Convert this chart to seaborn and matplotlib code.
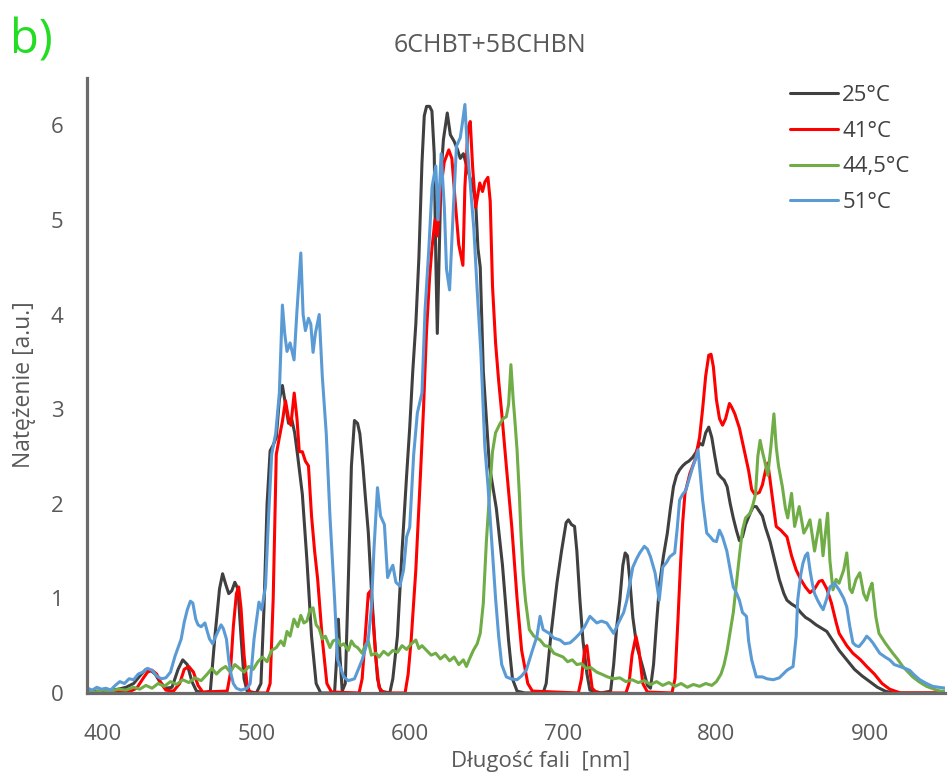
import matplotlib
matplotlib.use("Agg")
import matplotlib.pyplot as plt
import seaborn as sns
import pandas as pd

# ---------------- data ----------------
series_names = ["25°C", "41°C", "44,5°C", "51°C"]

wl_25 = [390, 395, 400, 405, 410, 415, 420, 424, 428, 431, 434, 437, 441, 445, 449, 452, 455, 458, 461, 466,
         470, 473, 476, 478, 480, 482, 484, 486, 488, 490, 492, 494, 500, 503, 505, 507, 509, 511, 513, 515,
         517, 519, 521, 523, 525, 527, 530, 533, 536, 539, 542, 551, 552.5, 553.5, 554.5, 556, 558, 560, 562, 564,
         566, 567.5, 569.5, 571, 573, 575, 577, 579, 581, 587, 589, 592, 595, 598, 600, 602, 604, 606, 608, 609.5,
         611, 613, 614.5, 616, 617, 618, 619, 620.5, 622, 624.5, 626.5, 629, 631, 633, 635, 638, 641, 643, 644.5, 646,
         648, 652, 656.5, 660.5, 664.5, 667, 670, 675, 687, 689, 692, 696, 699, 702, 703.5, 705.5, 707.5, 709,
         711, 713, 715.5, 717.5, 725, 731, 733, 735, 737, 739, 740.5, 742, 743.5, 745.5, 748, 752, 755, 757,
         759, 761, 763, 765.5, 768, 770, 772, 774, 776, 778, 780, 782, 784.5, 787, 789, 791, 793, 795, 797, 799,
         801, 803, 805, 807, 809, 811, 813, 815, 817, 819, 822, 824, 826, 828, 830, 832, 835, 838, 841, 844,
         846, 849, 852, 855, 858, 861, 865, 869, 872, 876, 880, 885, 890, 895, 900, 905, 910, 915, 925, 950]
int_25 = [0.03, 0.02, 0.02, 0.03, 0.04, 0.06, 0.10, 0.18, 0.25, 0.24, 0.20, 0.12, 0.05, 0.06, 0.25, 0.35, 0.30, 0.12, 0.02, 0.0,
          0.02, 0.6, 1.1, 1.26, 1.15, 1.05, 1.08, 1.17, 1.1, 0.6, 0.15, 0.02, 0.0, 0.1, 0.9, 2.0, 2.56, 2.62, 2.7, 3.1,
          3.25, 3.05, 2.85, 2.9, 2.75, 2.5, 2.1, 1.4, 0.6, 0.1, 0.0, 0.0, 0.4, 0.78, 0.4, 0.02, 0.1, 1.2, 2.4, 2.88,
          2.85, 2.74, 2.4, 2.09, 1.7, 1.1, 0.6, 0.15, 0.02, 0.0, 0.15, 0.6, 1.5, 2.3, 2.8, 3.4, 3.9, 4.6, 5.6, 6.1,
          6.2, 6.2, 6.15, 5.7, 4.6, 3.8, 4.5, 5.5, 5.85, 6.13, 5.9, 5.83, 5.75, 5.65, 5.7, 5.52, 5.35, 5.2, 4.7, 4.5,
          3.4, 2.4, 1.95, 1.35, 0.55, 0.15, 0.02, 0.0, 0.0, 0.1, 0.6, 1.16, 1.5, 1.8, 1.83, 1.78, 1.76, 1.5,
          0.98, 0.55, 0.21, 0.03, 0.0, 0.02, 0.3, 0.7, 0.98, 1.35, 1.48, 1.45, 1.2, 0.8, 0.5, 0.27, 0.08, 0.05,
          0.3, 0.75, 1.16, 1.45, 1.69, 1.95, 2.18, 2.3, 2.36, 2.4, 2.43, 2.45, 2.49, 2.55, 2.64, 2.62, 2.75, 2.81, 2.7, 2.5,
          2.32, 2.28, 2.25, 2.18, 2.0, 1.85, 1.72, 1.61, 1.65, 1.78, 1.9, 1.97, 1.97, 1.92, 1.87, 1.75, 1.6, 1.4, 1.2, 1.05,
          0.98, 0.94, 0.91, 0.85, 0.8, 0.77, 0.72, 0.68, 0.65, 0.55, 0.45, 0.35, 0.25, 0.18, 0.12, 0.06, 0.02, 0.0, 0.0, 0.0]

wl_41 = [390, 400, 410, 418, 422, 426, 429, 432, 435, 438, 441, 446, 450, 453, 456, 459, 462, 465, 481, 483,
         485, 487, 488.5, 490, 492, 494, 496, 507, 509, 511, 513, 515, 517, 519, 521, 522.5, 524.7, 526.5, 528, 530,
         532, 534, 536, 538, 540, 543, 546, 549, 567, 569, 571, 573, 574.5, 576, 578, 580, 583, 597, 599, 601,
         604, 607, 609, 611, 613, 614.5, 616.5, 618, 620.5, 622.5, 625.5, 627.5, 630, 632, 634.7, 636, 638, 639.5, 641, 643,
         645.7, 647.5, 649, 651, 652.5, 654, 656, 658, 660, 663, 666.6, 670, 673, 677, 680, 710, 712, 714, 715.5, 717,
         719, 722, 741, 743, 745, 747.5, 749.5, 752, 755, 771, 773, 775, 776.5, 778, 779.5, 782.7, 786, 789, 791, 793,
         795, 796.5, 798, 800, 802, 804, 806, 808.5, 810, 812, 815, 817, 819, 821, 823, 825, 828, 830, 832, 833.5,
         835, 837, 839, 842, 846, 849, 852, 855, 858, 861, 864, 867, 869, 872, 875, 878, 880, 885, 889, 894,
         898, 903, 908, 913, 920, 950]
int_41 = [0.0, 0.0, 0.01, 0.02, 0.05, 0.15, 0.22, 0.24, 0.2, 0.1, 0.03, 0.02, 0.1, 0.25, 0.28, 0.22, 0.08, 0.01, 0.02, 0.2,
          0.7, 1.05, 1.12, 0.9, 0.4, 0.08, 0.0, 0.0, 0.1, 1.0, 2.52, 2.7, 2.87, 3.09, 2.9, 2.83, 3.17, 2.9, 2.55, 2.55,
          2.45, 2.4, 1.87, 1.5, 1.2, 0.57, 0.1, 0.01, 0.0, 0.15, 0.6, 1.05, 1.08, 0.8, 0.35, 0.06, 0.0, 0.0, 0.2, 0.57,
          1.3, 2.3, 3.0, 3.83, 4.4, 4.7, 5.0, 4.83, 5.35, 5.61, 5.74, 5.65, 5.13, 4.74, 4.52, 5.35, 5.96, 6.04, 5.57, 5.13,
          5.39, 5.3, 5.4, 5.45, 5.2, 4.3, 3.7, 3.3, 2.96, 2.4, 1.75, 1.0, 0.45, 0.1, 0.02, 0.0, 0.15, 0.45, 0.5, 0.3,
          0.05, 0.0, 0.0, 0.1, 0.4, 0.6, 0.45, 0.1, 0.01, 0.0, 0.15, 0.8, 1.33, 1.8, 2.11, 2.32, 2.46, 2.7, 3.0, 3.35,
          3.57, 3.58, 3.45, 3.1, 2.9, 2.83, 2.9, 3.06, 3.02, 2.95, 2.8, 2.65, 2.5, 2.35, 2.15, 2.1, 2.12, 2.2, 2.35, 2.43,
          2.25, 2.0, 1.76, 1.72, 1.65, 1.45, 1.3, 1.2, 1.12, 1.06, 1.1, 1.18, 1.19, 1.1, 0.95, 0.75, 0.63, 0.5, 0.42, 0.35,
          0.28, 0.2, 0.1, 0.04, 0.0, 0.0]

wl_445 = [390, 395, 400, 405, 410, 415, 420, 424, 428, 432, 436, 440, 444, 448, 452, 456, 460, 464, 468, 471,
          474, 477, 480, 483, 486, 489, 492, 495, 498, 501, 504, 507, 510, 513, 516, 518, 520, 522, 524.5, 527,
          529, 531, 533, 535, 537, 539, 541, 543, 545, 548, 550, 553, 555, 557, 560, 562, 564, 566, 569, 571,
          573, 575, 578, 580, 583, 586, 589, 592, 595, 598, 601, 604, 606, 608, 611, 614, 617, 620, 623, 626,
          629, 632, 635, 637, 639, 641.5, 644, 646, 648, 650, 652, 654, 656, 659, 661, 663, 664.5, 666, 667.5, 668.5,
          670, 671.5, 672.5, 674, 675.5, 678, 681, 685, 688, 691, 694, 697, 700, 703, 706, 709, 712, 715, 718, 722,
          725, 729, 733, 737, 741, 745, 749, 753, 757, 761, 765, 769, 773, 777, 781, 785, 789, 793, 797, 800,
          803, 805, 807, 809, 811, 813, 815, 817, 819, 822, 824, 825.5, 827, 828.5, 830, 831.5, 833.5, 835.5, 837.5, 839,
          840.5, 843, 845, 846.5, 849, 851, 854, 857, 859, 861, 864, 867.5, 869.5, 872.5, 874, 876, 878, 880, 883, 885,
          887, 888.5, 891, 893.5, 896, 898, 900, 901.5, 904, 906, 910, 915, 918, 921.5, 925, 928, 932, 937, 942, 946, 950]
int_445 = [0.02, 0.01, 0.03, 0.02, 0.04, 0.03, 0.06, 0.04, 0.08, 0.05, 0.1, 0.07, 0.12, 0.09, 0.14, 0.11, 0.16, 0.13, 0.2, 0.26,
           0.2, 0.25, 0.28, 0.22, 0.3, 0.26, 0.22, 0.28, 0.25, 0.33, 0.38, 0.33, 0.45, 0.48, 0.55, 0.5, 0.65, 0.6, 0.78, 0.7,
           0.82, 0.74, 0.76, 0.88, 0.9, 0.72, 0.68, 0.57, 0.6, 0.48, 0.55, 0.57, 0.5, 0.52, 0.45, 0.55, 0.5, 0.48, 0.42, 0.5,
           0.55, 0.4, 0.42, 0.38, 0.44, 0.4, 0.45, 0.43, 0.5, 0.46, 0.52, 0.56, 0.47, 0.5, 0.45, 0.4, 0.42, 0.36, 0.4, 0.34,
           0.38, 0.3, 0.35, 0.28, 0.36, 0.45, 0.52, 0.63, 0.95, 1.6, 2.1, 2.55, 2.75, 2.85, 2.9, 2.92, 3.05, 3.47, 3.1, 2.9,
           2.57, 2.1, 1.7, 1.25, 0.98, 0.67, 0.6, 0.56, 0.5, 0.49, 0.42, 0.4, 0.38, 0.33, 0.35, 0.3, 0.31, 0.26, 0.27, 0.22,
           0.2, 0.17, 0.15, 0.16, 0.12, 0.14, 0.11, 0.13, 0.09, 0.12, 0.08, 0.11, 0.07, 0.1, 0.06, 0.09, 0.07, 0.1, 0.08, 0.12,
           0.2, 0.3, 0.45, 0.65, 0.85, 1.15, 1.45, 1.72, 1.85, 1.9, 2.0, 2.1, 2.5, 2.67, 2.55, 2.45, 2.3, 2.6, 2.95, 2.6,
           2.4, 2.18, 1.95, 1.85, 2.11, 1.76, 1.97, 1.69, 1.75, 1.83, 1.5, 1.83, 1.45, 1.9, 1.4, 1.09, 1.2, 1.16, 1.3, 1.48,
           1.1, 1.06, 1.2, 1.27, 1.05, 0.98, 1.1, 1.16, 0.8, 0.63, 0.53, 0.42, 0.36, 0.28, 0.22, 0.17, 0.12, 0.07, 0.04, 0.02, 0.02]

wl_51 = [390, 393, 396, 399, 402, 405, 408, 411, 414, 417, 420, 423, 426, 429, 432, 435, 438, 441, 444, 447,
         449, 451, 453, 455, 457, 458.6, 460.5, 462, 464, 466.5, 468, 469.5, 471.5, 473, 475, 477, 478.5, 480.5, 482, 483.5,
         485, 487, 490, 494, 496, 498.5, 500, 501.7, 503.5, 506, 508, 510, 512.6, 515, 517, 518.5, 520, 522, 524.6, 526.5,
         529, 530.5, 532, 534, 535.5, 537, 538.5, 541, 543, 545.6, 548, 551, 553, 557, 560, 564, 569, 573, 575, 576.7,
         579, 581, 583.5, 585.6, 587.5, 589, 591, 593.6, 596, 598, 600, 602.6, 605, 608, 610, 612.5, 614.6, 617, 618.5, 620.5,
         622.6, 624, 626, 628.5, 630.5, 633, 634.5, 636, 637.5, 639.6, 641.8, 644, 646.4, 649, 651, 653.5, 656, 658, 660, 663,
         666, 670, 673, 676, 680, 683, 685, 687, 691, 694, 698, 701, 704.6, 708, 711, 714, 717.5, 722, 725, 728.5,
         733, 737, 739.5, 741.6, 743.5, 745.5, 748, 750, 753, 755, 757, 760, 762.7, 765, 767.5, 769.6, 772.8, 774.5, 776, 778,
         780, 782, 784.6, 786.5, 788, 789.5, 791, 793.7, 796, 798, 800, 802, 804, 806.8, 809, 811, 813, 815, 817, 819.6,
         821, 823, 826, 830, 833, 837, 841, 846, 850, 852, 853, 855, 856.4, 858, 859.5, 861, 862.5, 864, 866, 868,
         869.6, 872, 874, 877, 880, 883, 885, 887, 889, 891, 893, 896, 898, 900, 902, 906.5, 910, 913, 916, 919.6,
         923, 926, 929, 932.6, 937, 941, 945, 950]
int_51 = [0.05, 0.03, 0.06, 0.04, 0.05, 0.03, 0.08, 0.12, 0.1, 0.15, 0.14, 0.2, 0.22, 0.26, 0.24, 0.18, 0.15, 0.16, 0.22, 0.39,
          0.48, 0.57, 0.75, 0.88, 0.97, 0.95, 0.78, 0.72, 0.7, 0.74, 0.65, 0.57, 0.52, 0.58, 0.65, 0.72, 0.68, 0.57, 0.35, 0.2,
          0.1, 0.05, 0.03, 0.05, 0.1, 0.57, 0.75, 0.96, 0.88, 1.13, 1.87, 2.52, 2.74, 3.17, 4.1, 3.8, 3.61, 3.7, 3.52, 4.04,
          4.65, 4.0, 3.83, 3.96, 3.9, 3.6, 3.8, 4.0, 3.35, 2.74, 1.87, 1.0, 0.35, 0.17, 0.13, 0.15, 0.35, 0.57, 0.9, 1.52,
          2.17, 1.87, 1.78, 1.22, 1.3, 1.35, 1.17, 1.13, 1.3, 1.65, 1.75, 2.52, 2.96, 3.17, 4.04, 4.7, 5.35, 5.57, 5.0, 5.7,
          5.13, 4.48, 4.26, 5.13, 5.78, 5.87, 6.04, 6.22, 5.78, 5.35, 4.91, 4.26, 3.6, 2.6, 2.2, 1.6, 1.0, 0.6, 0.3, 0.17,
          0.15, 0.14, 0.18, 0.24, 0.45, 0.6, 0.81, 0.67, 0.63, 0.58, 0.56, 0.52, 0.53, 0.58, 0.63, 0.7, 0.81, 0.74, 0.76, 0.74,
          0.63, 0.77, 0.85, 0.98, 1.15, 1.33, 1.42, 1.48, 1.55, 1.52, 1.44, 1.27, 0.98, 1.33, 1.38, 1.44, 1.48, 1.75, 2.04, 2.1,
          2.14, 2.25, 2.39, 2.48, 2.57, 2.3, 2.04, 1.69, 1.65, 1.61, 1.6, 1.72, 1.65, 1.5, 1.3, 1.12, 1.06, 0.98, 0.85, 0.81,
          0.55, 0.35, 0.17, 0.17, 0.15, 0.14, 0.16, 0.24, 0.28, 0.6, 0.98, 1.25, 1.37, 1.45, 1.48, 1.3, 1.16, 1.05, 0.98, 0.92,
          0.88, 1.0, 1.12, 1.16, 1.09, 1.0, 0.91, 0.7, 0.53, 0.5, 0.49, 0.55, 0.6, 0.57, 0.53, 0.42, 0.38, 0.35, 0.3, 0.28,
          0.26, 0.24, 0.19, 0.14, 0.1, 0.07, 0.06, 0.05]

x_ticks = [400, 500, 600, 700, 800, 900]
y_ticks = [0, 1, 2, 3, 4, 5, 6]

colors = {"25°C": "#404040", "41°C": "#ff0000", "44,5°C": "#70ad47", "51°C": "#5b9bd5"}

frames = []
for name, wl, it in zip(series_names, [wl_25, wl_41, wl_445, wl_51], [int_25, int_41, int_445, int_51]):
    frames.append(pd.DataFrame({"wl": wl, "val": it, "series": name}))
df = pd.concat(frames, ignore_index=True)

# ---------------- figure ----------------
sns.set_style("white")
plt.rcParams["font.family"] = ["Open Sans", "DejaVu Sans"]
txt_color = "#595959"

fig = plt.figure(figsize=(9.49, 7.76), dpi=100)
ax = fig.add_axes([0.0917, 0.107, 0.904, 0.7925])

sns.lineplot(data=df, x="wl", y="val", hue="series", hue_order=series_names,
             palette=colors, estimator=None, sort=False, linewidth=2.2, ax=ax, legend=True)

ax.set_xlim(389.6, 949)
ax.set_ylim(0, 6.5)
ax.set_xticks(x_ticks)
ax.set_yticks(y_ticks)
ax.tick_params(axis="both", length=0, labelsize=16, colors=txt_color)
ax.tick_params(axis="x", pad=22)
ax.tick_params(axis="y", pad=17)

for s in ["top", "right"]:
    ax.spines[s].set_visible(False)
for s in ["left", "bottom"]:
    ax.spines[s].set_color("#6b6b6b")
    ax.spines[s].set_linewidth(2.3)
ax.grid(False)

ax.set_xlabel("")
ax.set_ylabel("")
fig.text(541 / 949, 1 - 767 / 776, "Długość fali  [nm]", ha="center", va="baseline",
         fontsize=16, color=txt_color)
fig.text(24 / 949, 1 - 385 / 776, "Natężenie [a.u.]", ha="center", va="center",
         rotation=90, fontsize=16.5, color=txt_color)
fig.text(490 / 949, 1 - 45 / 776, "6CHBT+5BCHBN", ha="center", va="center",
         fontsize=18, color=txt_color)
fig.text(10 / 949, 1 - 41 / 776, "b)", ha="left", va="center",
         fontsize=34, color="#22dd22")

leg = ax.legend(loc="upper left", bbox_to_anchor=(790 / 949, 1 - 85 / 776),
                bbox_transform=fig.transFigure, frameon=False, fontsize=16,
                handlelength=2.15, handletextpad=0.2, labelspacing=0.66,
                borderpad=0, borderaxespad=0, title=None)
for t in leg.get_texts():
    t.set_color("#404040")
for l in leg.get_lines():
    l.set_linewidth(2.2)

fig.savefig("out.png", dpi=100)
